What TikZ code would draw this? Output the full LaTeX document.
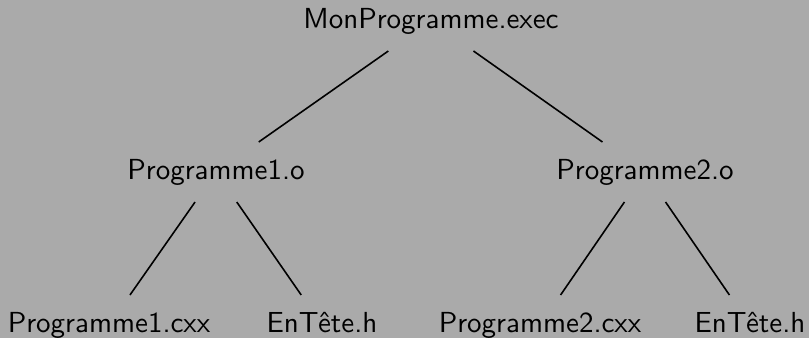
\documentclass[tikz,border=0pt]{standalone}
\usepackage{fontspec}
\newfontfamily\lmsx{lmsans10-regular.otf}
\definecolor{bg}{RGB}{170,170,170}
\begin{document}
\begin{tikzpicture}[x=1pt,y=-1pt,
  lbl/.style={font=\lmsx\fontsize{29}{35}\selectfont, text height=21pt, text depth=7pt, inner xsep=4pt, inner ysep=16pt, outer sep=0pt},
  conn/.style={line width=1.6pt}]
\fill[bg] (0,0) rectangle (809,338);
\useasboundingbox (0,0) rectangle (809,338);
\node[lbl] (top) at (431,21) {MonProgramme.exec};
\node[lbl] (p1) at (216,172) {Programme1.o};
\node[lbl] (p2) at (645,172) {Programme2.o};
\node[lbl] (c1) at (109,325) {Programme1.cxx};
\node[lbl] (h1) at (322,325) {EnTête.h};
\node[lbl] (c2) at (540,325) {Programme2.cxx};
\node[lbl] (h2) at (750,325) {EnTête.h};
\draw[conn] (top) -- (p1);
\draw[conn] (top) -- (p2);
\draw[conn] (p1) -- (c1);
\draw[conn] (p1) -- (h1);
\draw[conn] (p2) -- (c2);
\draw[conn] (p2) -- (h2);
\end{tikzpicture}
\end{document}
